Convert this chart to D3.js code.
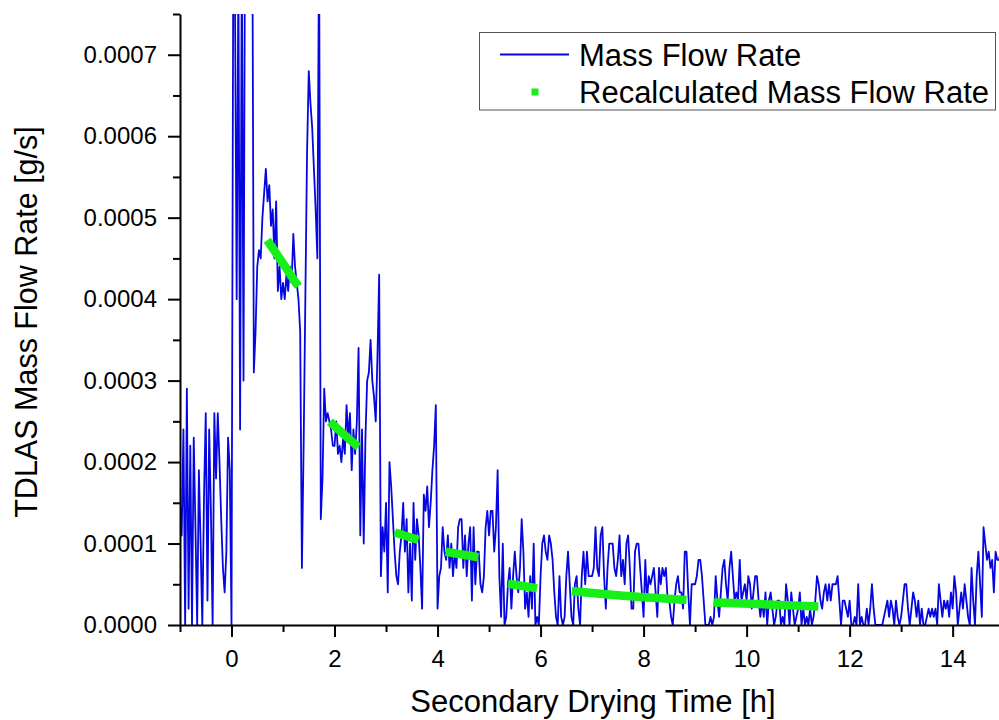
<!DOCTYPE html>
<html>
<head>
<meta charset="utf-8">
<script src="https://cdn.jsdelivr.net/npm/d3@7"></script>
<style>
  html, body { margin: 0; padding: 0; background: #fff; }
  svg { display: block; font-family: Arial, "Liberation Sans", sans-serif; }
</style>
</head>
<body>
<svg id="chart" width="999" height="720"></svg>
<script>
// TDLAS mass flow rate, one sample every 2 min (1/30 h) starting at t = -1 h.
// Values in units of 1e-5 g/s; one row per hour of drying time.
const sampleStart = -1;
const sampleStep = 1 / 30;
const valueUnit = 1e-5;
const massFlowE5 = [
  // -1 h
  15,11,24,0,29,2,22,0,23,12,0,19,10,0,16,26,3,24,14,0,26,18,26,20,13,7,4,9,23,19,
  // 0 h
  0,80,78,40,80,24,82,30,95,95,95,95,95,31,36,44,46,45,50,53,56,52,54,49,51,45,52,41,44,40,
  // 1 h
  42,40,43,41,44,42,48,44,42,40,36,7,22,40,58,68,64,61,56,51,45,85,13,18,29,25,26,25,24,22,
  // 2 h
  22,25,21,22,20,23,21,27,23,26,19,24,21,25,34,11,24,10,23,30,31,35,30,28,25,33,43,6,12,9,
  // 3 h
  15,4,20,17,13,9,6,5,9,11,15,9,13,4,10,3,15,8,13,11,7,2,16,14,17,12,15,19,22,27,
  // 4 h
  2,6,7,12,9,8,11,7,10,6,9,7,12,13,13,7,11,6,10,12,3,12,5,9,9,5,4,6,12,14,
  // 5 h
  11,14,14,9,12,19,6,1,10,0,1,5,7,2,6,9,6,4,7,13,9,2,4,1,6,2,10,0,1,0,
  // 6 h
  6,10,11,9,8,11,10,8,4,1,0,6,1,0,1,6,9,5,1,0,5,6,2,0,6,9,5,9,6,6,
  // 7 h
  6,7,12,7,6,11,12,6,2,7,10,10,10,7,6,8,11,6,8,5,10,11,7,2,2,9,10,10,7,4,
  // 8 h
  1,8,3,6,5,6,7,4,1,7,5,7,6,7,3,3,1,0,3,5,6,4,4,2,9,9,4,0,5,5,
  // 9 h
  5,6,8,8,6,3,0,0,0,1,0,1,6,3,1,4,7,8,5,3,7,9,6,3,4,3,8,3,4,5,
  // 10 h
  3,6,5,2,4,6,6,3,1,3,1,4,0,3,4,2,0,1,3,3,0,1,0,5,3,0,4,2,0,1,
  // 11 h
  2,4,0,2,0,1,0,2,0,1,3,6,5,3,2,4,5,3,5,3,5,5,5,6,3,0,3,3,2,1,
  // 12 h
  3,0,0,1,0,5,0,1,0,0,2,0,2,5,2,0,0,0,0,0,1,2,3,1,3,2,0,3,1,0,
  // 13 h
  1,3,5,5,2,0,2,4,3,1,3,0,2,0,0,1,2,1,2,1,2,0,5,3,1,3,2,3,1,4,
  // 14 h
  2,6,4,0,2,4,2,5,3,1,0,7,3,0,6,9,5,1,12,10,8,9,7,8,4,9,8,8,9
];

// Recalculated mass flow rate, one segment per evaluation window: [time h, value 1e-5 g/s]
const recalcSegments = [
  [[0.74, 46.8], [1.00, 44.4], [1.25, 42.0]],
  [[1.97, 24.6], [2.18, 23.4], [2.40, 22.2]],
  [[3.25, 11.2], [3.55, 10.6]],
  [[4.24, 8.9], [4.71, 8.4]],
  [[5.45, 5.0], [5.85, 4.6]],
  [[6.69, 4.1], [7.60, 3.6], [8.75, 3.1]],
  [[9.45, 2.75], [11.31, 2.3]]
];

const xMajorTicks = [0, 2, 4, 6, 8, 10, 12, 14];
const xMinorTicks = [-1, 1, 3, 5, 7, 9, 11, 13];
const yMajorTicks = [0, 0.0001, 0.0002, 0.0003, 0.0004, 0.0005, 0.0006, 0.0007];
const yMinorTicks = [0.00005, 0.00015, 0.00025, 0.00035, 0.00045, 0.00055, 0.00065, 0.00075];
const seriesNames = ["Mass Flow Rate", "Recalculated Mass Flow Rate"];
const xTitle = "Secondary Drying Time [h]";
const yTitle = "TDLAS Mass Flow Rate [g/s]";

const blue = "#0606e0";
const green = "#18ee18";

const plot = { left: 180, right: 999, top: 14, bottom: 625 };
const x = d3.scaleLinear().domain([-1, 14.9]).range([plot.left, plot.right]);
const y = d3.scaleLinear().domain([0, 0.00075]).range([plot.bottom, plot.top]);

const svg = d3.select("#chart");

svg.append("defs").append("clipPath").attr("id", "plotClip")
  .append("rect")
  .attr("x", plot.left).attr("y", plot.top)
  .attr("width", plot.right - plot.left)
  .attr("height", plot.bottom - plot.top + 1);

const series = massFlowE5.map((v, i) => ({ t: sampleStart + i * sampleStep, v: v * valueUnit }));

const dataLayer = svg.append("g").attr("clip-path", "url(#plotClip)");

dataLayer.append("path")
  .datum(series)
  .attr("fill", "none")
  .attr("stroke", blue)
  .attr("stroke-width", 1.8)
  .attr("stroke-linejoin", "round")
  .attr("d", d3.line().x(d => x(d.t)).y(d => y(d.v)));

const recalcLine = d3.line().x(d => x(d[0])).y(d => y(d[1] * valueUnit));
dataLayer.selectAll("path.recalc")
  .data(recalcSegments)
  .join("path")
  .attr("class", "recalc")
  .attr("fill", "none")
  .attr("stroke", green)
  .attr("stroke-width", 8.5)
  .attr("stroke-linecap", "square")
  .attr("d", recalcLine);

// Axes
function styleAxis(g) {
  g.selectAll("path.domain").attr("stroke", "#000").attr("stroke-width", 2);
  g.selectAll(".tick line").attr("stroke", "#000").attr("stroke-width", 2);
  g.selectAll(".tick text").attr("fill", "#000").attr("font-size", 24)
    .attr("font-family", "Arial, 'Liberation Sans', sans-serif");
}

svg.append("g")
  .attr("transform", `translate(0,${plot.bottom})`)
  .call(d3.axisBottom(x).tickValues(xMinorTicks).tickSizeInner(7).tickSizeOuter(0).tickFormat(""))
  .call(styleAxis)
  .call(g => g.select("path.domain").remove());

svg.append("g")
  .attr("transform", `translate(${plot.left},0)`)
  .call(d3.axisLeft(y).tickValues(yMinorTicks).tickSizeInner(7).tickSizeOuter(0).tickFormat(""))
  .call(styleAxis)
  .call(g => g.select("path.domain").remove());

svg.append("g")
  .attr("transform", `translate(0,${plot.bottom})`)
  .call(d3.axisBottom(x).tickValues(xMajorTicks).tickSizeInner(12).tickSizeOuter(0).tickPadding(13).tickFormat(d3.format("d")))
  .call(styleAxis);

svg.append("g")
  .attr("transform", `translate(${plot.left},0)`)
  .call(d3.axisLeft(y).tickValues(yMajorTicks).tickSizeInner(12).tickSizeOuter(0).tickPadding(11).tickFormat(d3.format(".4f")))
  .call(styleAxis);

// Axis titles
svg.append("text")
  .attr("x", 593).attr("y", 712)
  .attr("text-anchor", "middle")
  .attr("font-size", 31).attr("fill", "#000")
  .text(xTitle);

svg.append("text")
  .attr("transform", "translate(37,322) rotate(-90)")
  .attr("text-anchor", "middle")
  .attr("font-size", 30.5).attr("fill", "#000")
  .text(yTitle);

// Legend
const legend = svg.append("g");
legend.append("rect")
  .attr("x", 479.5).attr("y", 32.5).attr("width", 516).attr("height", 77.5)
  .attr("fill", "#fff").attr("stroke", "#555").attr("stroke-width", 1);
legend.append("line")
  .attr("x1", 500).attr("x2", 569).attr("y1", 54.5).attr("y2", 54.5)
  .attr("stroke", blue).attr("stroke-width", 1.8);
legend.append("rect")
  .attr("x", 531.5).attr("y", 88.5).attr("width", 7).attr("height", 7)
  .attr("fill", green);
legend.selectAll("text")
  .data(seriesNames)
  .join("text")
  .attr("x", 579)
  .attr("y", (d, i) => i === 0 ? 66 : 103)
  .attr("font-size", 31).attr("fill", "#000")
  .text(d => d);
</script>
</body>
</html>
